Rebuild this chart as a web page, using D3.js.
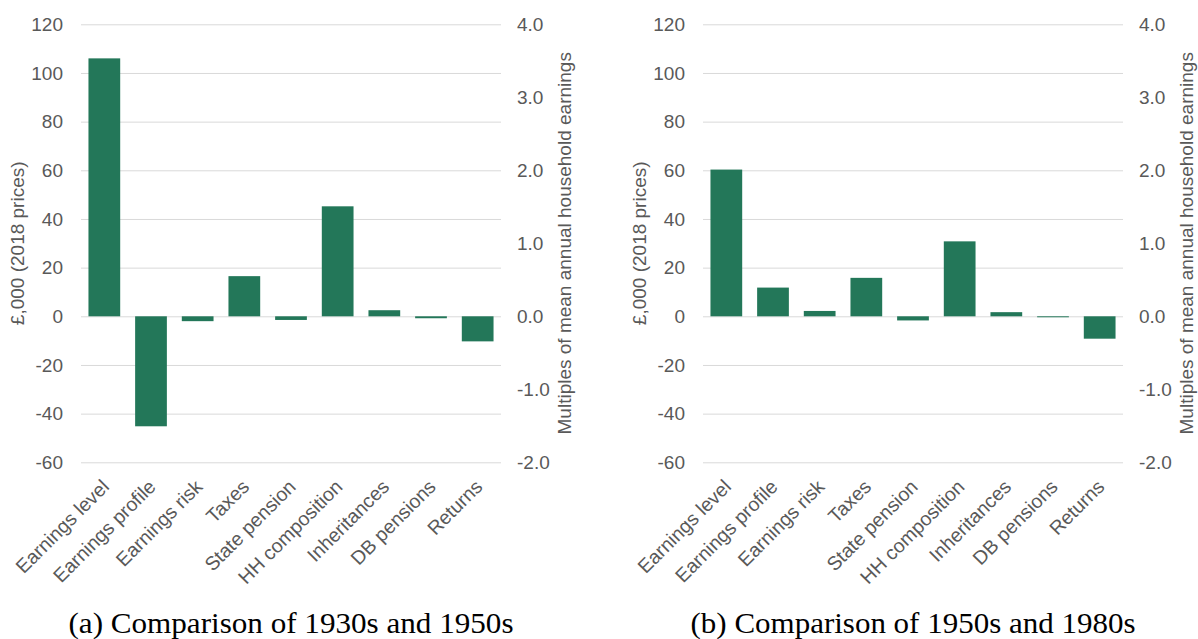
<!DOCTYPE html>
<html>
<head>
<meta charset="utf-8">
<script src="https://cdn.jsdelivr.net/npm/d3@7"></script>
<style>
  html, body { margin: 0; padding: 0; background: #fff; }
  svg { display: block; }
</style>
</head>
<body>
<svg id="chart" width="1198" height="639"></svg>
<script>
// categories shared by both panels
const categories = ["Earnings level", "Earnings profile", "Earnings risk", "Taxes",
  "State pension", "HH composition", "Inheritances", "DB pensions", "Returns"];

// £,000 (2018 prices)
const values1930v1950 = [106, -45.2, -2, 16.5, -1.5, 45.2, 2.5, -0.8, -10.3];
const values1950v1980 = [60.3, 11.8, 2.2, 15.8, -1.7, 30.8, 1.7, -0.4, -9.2];

const leftTicks = [-60, -40, -20, 0, 20, 40, 60, 80, 100, 120];
const rightTicks = [-2, -1, 0, 1, 2, 3, 4];

const captions = ["(a) Comparison of 1930s and 1950s", "(b) Comparison of 1950s and 1980s"];

const svg = d3.select("#chart");
const textColour = "#595959";
const barColour = "#237759";
const sans = "'Liberation Sans', Arial, sans-serif";

const y = d3.scaleLinear().domain([-60, 120]).range([462.3, 24.3]);
const y2 = d3.scaleLinear().domain([-2, 4]).range([462.3, 24.3]);
const midY = (y(-60) + y(120)) / 2;

function drawPanel(x0, values, caption) {
  const x1 = x0 + 420;
  const x = d3.scaleBand().domain(categories).range([x0, x1]).paddingInner(0.32).paddingOuter(0.16);
  const g = svg.append("g");

  // gridlines + left labels
  const left = g.append("g")
      .attr("transform", "translate(" + x0 + ",0)")
      .call(d3.axisLeft(y).tickValues(leftTicks).tickSize(-(x1 - x0)).tickPadding(18).tickFormat(d => String(d)));
  left.select(".domain").remove();
  left.selectAll("line").attr("stroke", "#d9d9d9").attr("stroke-width", 1);
  left.selectAll("text").attr("fill", textColour).style("font", "19px " + sans);

  const right = g.append("g")
      .attr("transform", "translate(" + x1 + ",0)")
      .call(d3.axisRight(y2).tickValues(rightTicks).tickSize(0).tickPadding(16).tickFormat(d => d.toFixed(1)));
  right.select(".domain").remove();
  right.selectAll("text").attr("fill", textColour).style("font", "19px " + sans);

  g.selectAll("rect.bar")
    .data(values)
    .join("rect")
      .attr("class", "bar")
      .attr("x", (d, i) => x(categories[i]))
      .attr("width", x.bandwidth())
      .attr("y", d => y(Math.max(0, d)))
      .attr("height", d => Math.abs(y(d) - y(0)))
      .attr("fill", barColour);

  // category labels, rotated
  g.selectAll("text.cat")
    .data(categories)
    .join("text")
      .attr("class", "cat")
      .attr("text-anchor", "end")
      .attr("transform", d => "translate(" + (x(d) + x.bandwidth() / 2 + 6) + ",488) rotate(-45)")
      .attr("fill", textColour)
      .style("font", "19.5px " + sans)
      .text(d => d);

  // axis titles
  g.append("text")
      .attr("transform", "translate(" + (x0 - 57) + "," + midY + ") rotate(-90)")
      .attr("text-anchor", "middle")
      .attr("fill", textColour)
      .style("font", "19px " + sans)
      .text("£,000 (2018 prices)");

  g.append("text")
      .attr("transform", "translate(" + (x1 + 70) + "," + midY + ") rotate(-90)")
      .attr("text-anchor", "middle")
      .attr("fill", textColour)
      .style("font", "19px " + sans)
      .text("Multiples of mean annual household earnings");

  g.append("text")
      .attr("x", (x0 + x1) / 2)
      .attr("y", 633)
      .attr("text-anchor", "middle")
      .attr("textLength", 445)
      .attr("lengthAdjust", "spacingAndGlyphs")
      .attr("fill", "#000")
      .style("font", "29px 'Liberation Serif', 'Times New Roman', serif")
      .text(caption);
}

drawPanel(81, values1930v1950, captions[0]);
drawPanel(703, values1950v1980, captions[1]);
</script>
</body>
</html>
